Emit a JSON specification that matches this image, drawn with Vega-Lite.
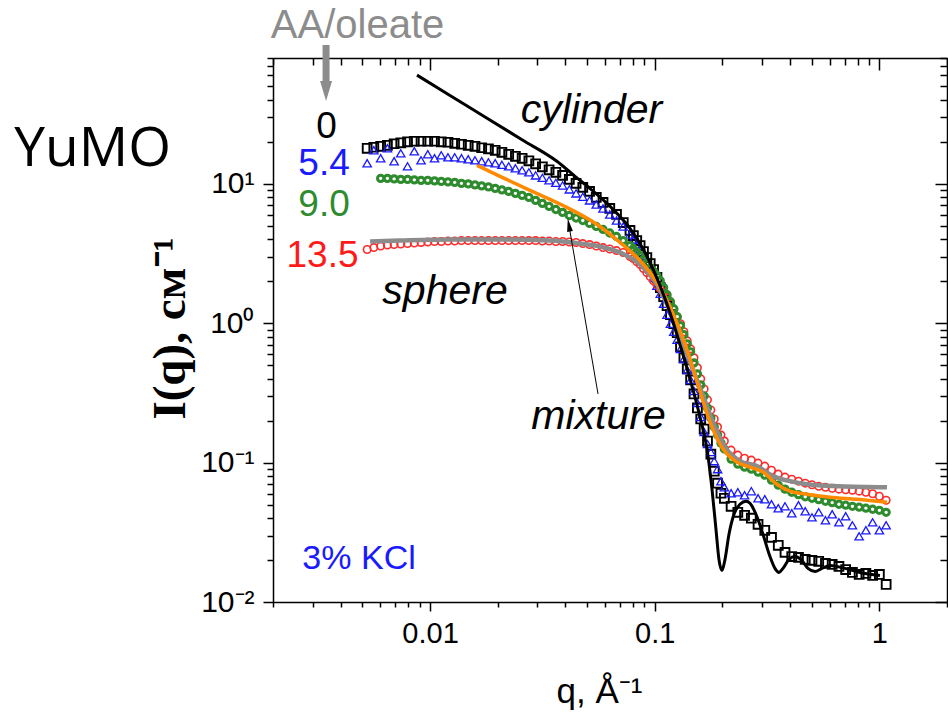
{
"$schema":"https://vega.github.io/schema/vega-lite/v6.json",
"width":674,"height":544,"autosize":{"type":"none"},
"padding":{"left":273,"top":58,"right":1,"bottom":111},
"background":"white",
"config":{"view":{"stroke":null},"axis":{"grid":false}},
"datasets":{
"d0":[{"q":0.00525,"I":18.0},{"q":0.00562,"I":18.31},{"q":0.00603,"I":18.61},{"q":0.00646,"I":18.92},{"q":0.00692,"I":19.4},{"q":0.00741,"I":19.72},{"q":0.00794,"I":20.05},{"q":0.00851,"I":20.22},{"q":0.00912,"I":20.22},{"q":0.00977,"I":20.22},{"q":0.01047,"I":20.22},{"q":0.01122,"I":20.05},{"q":0.01202,"I":19.89},{"q":0.01288,"I":19.56},{"q":0.0138,"I":19.24},{"q":0.01479,"I":18.92},{"q":0.01585,"I":18.61},{"q":0.01698,"I":18.16},{"q":0.0182,"I":17.86},{"q":0.0195,"I":17.42},{"q":0.02089,"I":16.85},{"q":0.02239,"I":16.3},{"q":0.02399,"I":15.77},{"q":0.0257,"I":15.26},{"q":0.02754,"I":14.64},{"q":0.02951,"I":13.93},{"q":0.03162,"I":13.26},{"q":0.03388,"I":12.61},{"q":0.03631,"I":12.1},{"q":0.0389,"I":11.51},{"q":0.04169,"I":10.77},{"q":0.04467,"I":10.08},{"q":0.04786,"I":9.44},{"q":0.05129,"I":8.83},{"q":0.05495,"I":8.0},{"q":0.05888,"I":7.36},{"q":0.0631,"I":6.66},{"q":0.06761,"I":6.03},{"q":0.07244,"I":5.28},{"q":0.07762,"I":4.63},{"q":0.08035,"I":4.26},{"q":0.08318,"I":3.92},{"q":0.0861,"I":3.61},{"q":0.08913,"I":3.27},{"q":0.09226,"I":2.96},{"q":0.0955,"I":2.68},{"q":0.09886,"I":2.43},{"q":0.1023,"I":2.13},{"q":0.1059,"I":1.8},{"q":0.1096,"I":1.551},{"q":0.1135,"I":1.336},{"q":0.1175,"I":1.151},{"q":0.1216,"I":0.992},{"q":0.1259,"I":0.855},{"q":0.1303,"I":0.678},{"q":0.1349,"I":0.565},{"q":0.1396,"I":0.471},{"q":0.1445,"I":0.392},{"q":0.1496,"I":0.311},{"q":0.1549,"I":0.2467},{"q":0.1603,"I":0.2056},{"q":0.166,"I":0.1742},{"q":0.1718,"I":0.1428},{"q":0.1778,"I":0.1151},{"q":0.1841,"I":0.0868},{"q":0.1905,"I":0.0712},{"q":0.1972,"I":0.0603},{"q":0.2042,"I":0.0555},{"q":0.2188,"I":0.0486},{"q":0.2344,"I":0.044},{"q":0.2512,"I":0.0419},{"q":0.2692,"I":0.0399},{"q":0.2884,"I":0.0361},{"q":0.309,"I":0.0327},{"q":0.3311,"I":0.0291},{"q":0.3548,"I":0.0255},{"q":0.3802,"I":0.0227},{"q":0.4074,"I":0.0212},{"q":0.4365,"I":0.0209},{"q":0.4677,"I":0.0202},{"q":0.5012,"I":0.0199},{"q":0.537,"I":0.0196},{"q":0.5754,"I":0.0189},{"q":0.6166,"I":0.0186},{"q":0.6607,"I":0.018},{"q":0.7079,"I":0.0171},{"q":0.7586,"I":0.0163},{"q":0.8128,"I":0.01577},{"q":0.871,"I":0.01603},{"q":0.9333,"I":0.0155},{"q":1.0,"I":0.01577},{"q":1.072,"I":0.01336}],
"d54":[{"q":0.00525,"I":14.05},{"q":0.00562,"I":17.42},{"q":0.00603,"I":15.26},{"q":0.00646,"I":18.0},{"q":0.00692,"I":14.52},{"q":0.00741,"I":16.57},{"q":0.00794,"I":13.36},{"q":0.00851,"I":17.13},{"q":0.00912,"I":14.76},{"q":0.00977,"I":16.3},{"q":0.01047,"I":15.26},{"q":0.01122,"I":16.03},{"q":0.01202,"I":15.51},{"q":0.01288,"I":15.51},{"q":0.0138,"I":15.26},{"q":0.01479,"I":15.01},{"q":0.01585,"I":14.76},{"q":0.01698,"I":14.52},{"q":0.0182,"I":14.28},{"q":0.0195,"I":14.05},{"q":0.02089,"I":13.7},{"q":0.02239,"I":13.36},{"q":0.02399,"I":12.93},{"q":0.0257,"I":12.51},{"q":0.02754,"I":12.1},{"q":0.02951,"I":11.51},{"q":0.03162,"I":11.05},{"q":0.03388,"I":10.6},{"q":0.03631,"I":10.17},{"q":0.0389,"I":9.75},{"q":0.04169,"I":9.13},{"q":0.04467,"I":8.55},{"q":0.04786,"I":8.07},{"q":0.05129,"I":7.61},{"q":0.05495,"I":7.12},{"q":0.05888,"I":6.66},{"q":0.0631,"I":6.03},{"q":0.06761,"I":5.46},{"q":0.07244,"I":4.95},{"q":0.07762,"I":4.33},{"q":0.08035,"I":3.99},{"q":0.08318,"I":3.67},{"q":0.0861,"I":3.38},{"q":0.08913,"I":3.06},{"q":0.09226,"I":2.72},{"q":0.0955,"I":2.43},{"q":0.09886,"I":2.13},{"q":0.1023,"I":1.861},{"q":0.1059,"I":1.63},{"q":0.1096,"I":1.381},{"q":0.1135,"I":1.151},{"q":0.1175,"I":0.992},{"q":0.1216,"I":0.869},{"q":0.1259,"I":0.761},{"q":0.1303,"I":0.655},{"q":0.1349,"I":0.555},{"q":0.1396,"I":0.463},{"q":0.1445,"I":0.392},{"q":0.1496,"I":0.327},{"q":0.1549,"I":0.268},{"q":0.1603,"I":0.2125},{"q":0.166,"I":0.1657},{"q":0.1718,"I":0.1359},{"q":0.1778,"I":0.119},{"q":0.1841,"I":0.1025},{"q":0.1905,"I":0.0898},{"q":0.1972,"I":0.0736},{"q":0.2042,"I":0.0666},{"q":0.2188,"I":0.0603},{"q":0.2344,"I":0.0613},{"q":0.2512,"I":0.0584},{"q":0.2692,"I":0.0624},{"q":0.2884,"I":0.0555},{"q":0.309,"I":0.0546},{"q":0.3311,"I":0.0503},{"q":0.3548,"I":0.0471},{"q":0.3802,"I":0.0486},{"q":0.4074,"I":0.0433},{"q":0.4365,"I":0.0495},{"q":0.4677,"I":0.0448},{"q":0.5012,"I":0.0405},{"q":0.537,"I":0.044},{"q":0.5754,"I":0.0386},{"q":0.6166,"I":0.0426},{"q":0.6607,"I":0.0373},{"q":0.7079,"I":0.0412},{"q":0.7586,"I":0.0355},{"q":0.8128,"I":0.0296},{"q":0.871,"I":0.0327},{"q":0.9333,"I":0.0373},{"q":1.0,"I":0.0327},{"q":1.072,"I":0.0355}],
"d90":[{"q":0.00603,"I":10.95},{"q":0.00646,"I":10.95},{"q":0.00692,"I":10.86},{"q":0.00741,"I":10.77},{"q":0.00794,"I":10.77},{"q":0.00851,"I":10.69},{"q":0.00912,"I":10.6},{"q":0.00977,"I":10.6},{"q":0.01047,"I":10.51},{"q":0.01122,"I":10.42},{"q":0.01202,"I":10.34},{"q":0.01288,"I":10.25},{"q":0.0138,"I":10.08},{"q":0.01479,"I":10.0},{"q":0.01585,"I":9.83},{"q":0.01698,"I":9.67},{"q":0.0182,"I":9.51},{"q":0.0195,"I":9.28},{"q":0.02089,"I":9.05},{"q":0.02239,"I":8.83},{"q":0.02399,"I":8.55},{"q":0.0257,"I":8.27},{"q":0.02754,"I":8.0},{"q":0.02951,"I":7.61},{"q":0.03162,"I":7.24},{"q":0.03388,"I":6.89},{"q":0.03631,"I":6.55},{"q":0.0389,"I":6.24},{"q":0.04169,"I":5.93},{"q":0.04467,"I":5.69},{"q":0.04786,"I":5.46},{"q":0.05129,"I":5.2},{"q":0.05495,"I":4.95},{"q":0.05888,"I":4.71},{"q":0.0631,"I":4.44},{"q":0.06761,"I":4.19},{"q":0.07244,"I":3.92},{"q":0.07762,"I":3.61},{"q":0.08035,"I":3.44},{"q":0.08318,"I":3.24},{"q":0.0861,"I":3.06},{"q":0.08913,"I":2.86},{"q":0.09226,"I":2.68},{"q":0.0955,"I":2.51},{"q":0.09886,"I":2.35},{"q":0.1023,"I":2.2},{"q":0.1059,"I":2.02},{"q":0.1096,"I":1.8},{"q":0.1135,"I":1.603},{"q":0.1175,"I":1.428},{"q":0.1216,"I":1.272},{"q":0.1259,"I":1.114},{"q":0.1303,"I":0.959},{"q":0.1349,"I":0.827},{"q":0.1396,"I":0.712},{"q":0.1445,"I":0.624},{"q":0.1496,"I":0.52},{"q":0.1549,"I":0.433},{"q":0.1603,"I":0.361},{"q":0.166,"I":0.301},{"q":0.1718,"I":0.2467},{"q":0.1778,"I":0.209},{"q":0.1841,"I":0.18},{"q":0.1905,"I":0.1577},{"q":0.1972,"I":0.1381},{"q":0.2042,"I":0.1251},{"q":0.2188,"I":0.106},{"q":0.2344,"I":0.0975},{"q":0.2512,"I":0.0928},{"q":0.2692,"I":0.0898},{"q":0.2884,"I":0.0855},{"q":0.309,"I":0.0813},{"q":0.3311,"I":0.0748},{"q":0.3548,"I":0.0689},{"q":0.3802,"I":0.0645},{"q":0.4074,"I":0.0613},{"q":0.4365,"I":0.0589},{"q":0.4677,"I":0.0569},{"q":0.5012,"I":0.0555},{"q":0.537,"I":0.0542},{"q":0.5754,"I":0.0528},{"q":0.6166,"I":0.0516},{"q":0.6607,"I":0.0503},{"q":0.7079,"I":0.0495},{"q":0.7586,"I":0.0486},{"q":0.8128,"I":0.0479},{"q":0.871,"I":0.0471},{"q":0.9333,"I":0.0463},{"q":1.0,"I":0.0455},{"q":1.072,"I":0.044}],
"d135":[{"q":0.00525,"I":3.38},{"q":0.00562,"I":3.49},{"q":0.00603,"I":3.58},{"q":0.00646,"I":3.64},{"q":0.00692,"I":3.67},{"q":0.00741,"I":3.7},{"q":0.00794,"I":3.73},{"q":0.00851,"I":3.76},{"q":0.00912,"I":3.8},{"q":0.00977,"I":3.83},{"q":0.01047,"I":3.86},{"q":0.01122,"I":3.86},{"q":0.01202,"I":3.89},{"q":0.01288,"I":3.89},{"q":0.0138,"I":3.92},{"q":0.01479,"I":3.92},{"q":0.01585,"I":3.92},{"q":0.01698,"I":3.92},{"q":0.0182,"I":3.92},{"q":0.0195,"I":3.92},{"q":0.02089,"I":3.92},{"q":0.02239,"I":3.92},{"q":0.02399,"I":3.92},{"q":0.0257,"I":3.92},{"q":0.02754,"I":3.92},{"q":0.02951,"I":3.92},{"q":0.03162,"I":3.89},{"q":0.03388,"I":3.89},{"q":0.03631,"I":3.86},{"q":0.0389,"I":3.86},{"q":0.04169,"I":3.83},{"q":0.04467,"I":3.8},{"q":0.04786,"I":3.73},{"q":0.05129,"I":3.67},{"q":0.05495,"I":3.58},{"q":0.05888,"I":3.49},{"q":0.0631,"I":3.41},{"q":0.06761,"I":3.32},{"q":0.07244,"I":3.22},{"q":0.07762,"I":3.01},{"q":0.08035,"I":2.91},{"q":0.08318,"I":2.77},{"q":0.0861,"I":2.64},{"q":0.08913,"I":2.47},{"q":0.09226,"I":2.31},{"q":0.0955,"I":2.16},{"q":0.09886,"I":2.02},{"q":0.1023,"I":1.892},{"q":0.1059,"I":1.771},{"q":0.1096,"I":1.657},{"q":0.1135,"I":1.526},{"q":0.1175,"I":1.381},{"q":0.1216,"I":1.251},{"q":0.1259,"I":1.114},{"q":0.1303,"I":0.992},{"q":0.1349,"I":0.869},{"q":0.1396,"I":0.748},{"q":0.1445,"I":0.655},{"q":0.1496,"I":0.565},{"q":0.1549,"I":0.479},{"q":0.1603,"I":0.399},{"q":0.166,"I":0.338},{"q":0.1718,"I":0.282},{"q":0.1778,"I":0.2386},{"q":0.1841,"I":0.2056},{"q":0.1905,"I":0.18},{"q":0.1972,"I":0.1577},{"q":0.2042,"I":0.1428},{"q":0.2188,"I":0.123},{"q":0.2344,"I":0.1132},{"q":0.2512,"I":0.1077},{"q":0.2692,"I":0.1042},{"q":0.2884,"I":0.0992},{"q":0.309,"I":0.0944},{"q":0.3311,"I":0.0883},{"q":0.3548,"I":0.0827},{"q":0.3802,"I":0.0787},{"q":0.4074,"I":0.0761},{"q":0.4365,"I":0.0736},{"q":0.4677,"I":0.0712},{"q":0.5012,"I":0.0694},{"q":0.537,"I":0.0677},{"q":0.5754,"I":0.0666},{"q":0.6166,"I":0.0655},{"q":0.6607,"I":0.0645},{"q":0.7079,"I":0.0639},{"q":0.7586,"I":0.0634},{"q":0.8128,"I":0.0624},{"q":0.871,"I":0.0613},{"q":0.9333,"I":0.0598},{"q":1.0,"I":0.0574},{"q":1.072,"I":0.0537}],
"cyl":[{"q":0.00875,"I":60.3},{"q":0.01227,"I":43.1},{"q":0.01794,"I":29.6},{"q":0.02567,"I":20.72},{"q":0.0367,"I":14.52},{"q":0.0442,"I":11.32},{"q":0.0515,"I":9.28},{"q":0.0633,"I":6.89},{"q":0.0776,"I":4.79},{"q":0.0905,"I":3.22},{"q":0.1056,"I":1.861},{"q":0.117,"I":1.19},{"q":0.1296,"I":0.7},{"q":0.1436,"I":0.399},{"q":0.1591,"I":0.2125},{"q":0.1709,"I":0.1251},{"q":0.1799,"I":0.0645},{"q":0.1874,"I":0.0332},{"q":0.1932,"I":0.0202},{"q":0.1993,"I":0.01685},{"q":0.2055,"I":0.0202},{"q":0.2141,"I":0.0306},{"q":0.2254,"I":0.0426},{"q":0.2397,"I":0.0503},{"q":0.2549,"I":0.0528},{"q":0.2656,"I":0.0511},{"q":0.2823,"I":0.0426},{"q":0.3034,"I":0.0306},{"q":0.3259,"I":0.0212},{"q":0.343,"I":0.01742},{"q":0.3574,"I":0.0163},{"q":0.3724,"I":0.01742},{"q":0.396,"I":0.0202},{"q":0.4211,"I":0.0212},{"q":0.4478,"I":0.0202},{"q":0.481,"I":0.01742},{"q":0.5169,"I":0.01657},{"q":0.5553,"I":0.01742},{"q":0.6028,"I":0.0183},{"q":0.7028,"I":0.01742},{"q":0.8199,"I":0.0163},{"q":1.006,"I":0.0155}],
"sph":[{"q":0.00541,"I":3.86},{"q":0.00735,"I":3.92},{"q":0.01227,"I":3.99},{"q":0.02049,"I":3.99},{"q":0.0342,"I":3.92},{"q":0.04652,"I":3.73},{"q":0.05709,"I":3.55},{"q":0.07007,"I":3.22},{"q":0.08602,"I":2.64},{"q":0.1003,"I":1.989},{"q":0.117,"I":1.23},{"q":0.1364,"I":0.655},{"q":0.1591,"I":0.3436},{"q":0.1855,"I":0.18},{"q":0.2055,"I":0.1293},{"q":0.2397,"I":0.1025},{"q":0.2852,"I":0.0944},{"q":0.3361,"I":0.08},{"q":0.4,"I":0.0736},{"q":0.4762,"I":0.07},{"q":0.668,"I":0.0677},{"q":1.081,"I":0.0666}],
"mix":[{"q":0.01619,"I":13.59},{"q":0.02049,"I":11.32},{"q":0.02786,"I":8.98},{"q":0.03907,"I":7.0},{"q":0.05536,"I":5.11},{"q":0.07007,"I":3.8},{"q":0.08602,"I":2.82},{"q":0.1003,"I":2.06},{"q":0.117,"I":1.314},{"q":0.1364,"I":0.712},{"q":0.1543,"I":0.3795},{"q":0.1762,"I":0.1956},{"q":0.2014,"I":0.1251},{"q":0.2324,"I":0.1008},{"q":0.2656,"I":0.0928},{"q":0.3034,"I":0.0855},{"q":0.3502,"I":0.07},{"q":0.4,"I":0.0624},{"q":0.4762,"I":0.0593},{"q":0.6028,"I":0.0565},{"q":0.7949,"I":0.0546},{"q":1.081,"I":0.052}],
"lab":[{"s":"0","q":0.003462,"I":21.5},{"s":"5.4","q":0.003375,"I":11.51},{"s":"9.0","q":0.003375,"I":5.84},{"s":"13.5","q":0.003323,"I":2.55}],
"ann":[{"t":"cylinder","q":0.05232,"I":27.25},{"t":"sphere","q":0.01166,"I":1.381},{"t":"mixture","q":0.05622,"I":0.1742}],
"aa":[{"t":"AA/oleate","q":0.004757,"I":111.4}],
"kcl":[{"t":"3% KCl","q":0.004831,"I":0.01713}],
"yumo":[{"t":"YuMO","q":0.0003148,"I":13.36}],
"arr":[{"q":0.05594,"I":0.311,"q2":0.0415,"I2":5.07}],
"arrh":[{"q":0.0415,"I":5.07}],
"garr":[{"q":0.003445,"I":99.2,"q2":0.003445,"I2":52.8}],
"garrh":[{"q":0.003445,"I":46.3}]
},
"layer":[
{
"encoding":{
"x":{"field":"q","type":"quantitative","scale":{"type":"log","domain":[0.002,2],"nice":false},
"axis":{"orient":"bottom","values":[0.002,0.003,0.004,0.005,0.006,0.007,0.008,0.009,0.01,0.02,0.03,0.04,0.05,0.06,0.07,0.08,0.09,0.1,0.2,0.3,0.4,0.5,0.6,0.7,0.8,0.9,1,2],
"labelExpr":"datum.value==0.01?'0.01':datum.value==0.1?'0.1':datum.value==1?'1':''",
"tickSize":{"condition":{"test":"datum.value==0.01||datum.value==0.1||datum.value==1","value":9},"value":5},
"tickWidth":1.5,"tickColor":"black","domainColor":"black","domainWidth":1.5,
"labelFont":"Liberation Sans","labelFontSize":29,"labelColor":"black","labelPadding":8,"labelOverlap":false,"labelFlush":false,"labelBound":false,
"title":"q, Å⁻¹","titleFont":"Liberation Sans","titleFontSize":35,"titleFontWeight":"normal","titleColor":"black","titleX":326,"titleY":100,"titleBaseline":"alphabetic","titleAlign":"center"}},
"y":{"field":"I","type":"quantitative","scale":{"type":"log","domain":[0.01,80],"nice":false},
"axis":{"orient":"left","values":[0.01,0.02,0.03,0.04,0.05,0.06,0.07,0.08,0.09,0.1,0.2,0.3,0.4,0.5,0.6,0.7,0.8,0.9,1,2,3,4,5,6,7,8,9,10,20,30,40,50,60,70,80],
"labelExpr":"datum.value==0.01?'10⁻²':datum.value==0.1?'10⁻¹':datum.value==1?'10⁰':datum.value==10?'10¹':''",
"tickSize":{"condition":{"test":"datum.value==0.01||datum.value==0.1||datum.value==1||datum.value==10","value":10},"value":6},
"tickWidth":1.5,"tickColor":"black","domainColor":"black","domainWidth":1.5,
"labelFont":"Liberation Sans","labelFontSize":30,"labelColor":"black","labelPadding":9,"labelOverlap":false,"labelFlush":false,"labelBound":false,
"title":"I(q), см⁻¹","titleFont":"Liberation Serif","titleFontSize":47,"titleFontWeight":"bold","titleColor":"black","titleX":-103,"titleY":270,"titleAngle":270,"titleAlign":"center","titleBaseline":"middle"}}
},
"layer":[
{"data":{"name":"d0"},"mark":{"type":"point","shape":"square","filled":false,"color":"#000000","strokeWidth":1.9,"size":78,"opacity":1}},
{"data":{"name":"d54"},"mark":{"type":"point","shape":"triangle-up","filled":false,"color":"#1a1aff","strokeWidth":1.3,"size":70,"opacity":1}},
{"data":{"name":"d135"},"mark":{"type":"point","shape":"circle","filled":false,"color":"#ff2a2a","strokeWidth":1.6,"size":55,"opacity":1}},
{"data":{"name":"d90"},"mark":{"type":"point","shape":"circle","filled":false,"color":"#2e8b2e","strokeWidth":3,"size":40,"opacity":1}},
{"data":{"name":"sph"},"mark":{"type":"line","color":"#8c8c8c","strokeWidth":4.5,"interpolate":"monotone"}},
{"data":{"name":"mix"},"mark":{"type":"line","color":"#ff8a00","strokeWidth":3.5,"interpolate":"monotone"}},
{"data":{"name":"cyl"},"mark":{"type":"line","color":"#000000","strokeWidth":3,"interpolate":"monotone"}},
{"data":{"name":"arr"},"mark":{"type":"rule","color":"#000000","strokeWidth":1},"encoding":{"x2":{"field":"q2"},"y2":{"field":"I2"}}},
{"data":{"name":"arrh"},"mark":{"type":"point","shape":"M0,-1L0.45,1L-0.45,1Z","filled":true,"color":"#000000","size":169,"angle":-10,"opacity":1}},
{"data":{"name":"garr"},"mark":{"type":"rule","color":"#8c8c8c","strokeWidth":7},"encoding":{"x2":{"field":"q2"},"y2":{"field":"I2"}}},
{"data":{"name":"garrh"},"mark":{"type":"point","shape":"M-0.6,-1L0.6,-1L0,1Z","filled":true,"color":"#8c8c8c","size":400,"opacity":1}},
{"data":{"name":"lab"},"mark":{"type":"text","font":"Liberation Sans","fontSize":37,"align":"center","baseline":"alphabetic"},
 "encoding":{"text":{"field":"s"},"color":{"field":"s","type":"nominal","scale":{"domain":["0","5.4","9.0","13.5"],"range":["#000000","#1a1aff","#2e8b2e","#ff1a1a"]},"legend":null}}},
{"data":{"name":"ann"},"mark":{"type":"text","font":"Liberation Sans","fontSize":41,"fontStyle":"italic","align":"center","baseline":"alphabetic","color":"#000000"},"encoding":{"text":{"field":"t"}}},
{"data":{"name":"aa"},"mark":{"type":"text","font":"Liberation Sans","fontSize":40,"align":"center","baseline":"alphabetic","color":"#8c8c8c"},"encoding":{"text":{"field":"t"}}},
{"data":{"name":"kcl"},"mark":{"type":"text","font":"Liberation Sans","fontSize":34,"align":"center","baseline":"alphabetic","color":"#1a1aff"},"encoding":{"text":{"field":"t"}}},
{"data":{"name":"yumo"},"mark":{"type":"text","font":"Open Sans","fontSize":55,"align":"center","baseline":"alphabetic","color":"#000000"},"encoding":{"text":{"field":"t"}}}
]
},
{
"data":{"name":"sph"},
"mark":{"type":"point","opacity":0},
"encoding":{
"x":{"field":"q","type":"quantitative","scale":{"type":"log","domain":[0.002,2],"nice":false},
"axis":{"orient":"top","values":[0.002,0.003,0.004,0.005,0.006,0.007,0.008,0.009,0.01,0.02,0.03,0.04,0.05,0.06,0.07,0.08,0.09,0.1,0.2,0.3,0.4,0.5,0.6,0.7,0.8,0.9,1,2],"labels":false,"title":null,
"tickSize":{"condition":{"test":"datum.value==0.01||datum.value==0.1||datum.value==1","value":-12},"value":-7},
"tickWidth":1.5,"tickColor":"black","domainColor":"black","domainWidth":1.5}},
"y":{"field":"I","type":"quantitative","scale":{"type":"log","domain":[0.01,80],"nice":false},
"axis":{"orient":"right","values":[0.01,0.02,0.03,0.04,0.05,0.06,0.07,0.08,0.09,0.1,0.2,0.3,0.4,0.5,0.6,0.7,0.8,0.9,1,2,3,4,5,6,7,8,9,10,20,30,40,50,60,70,80],"labels":false,"title":null,
"tickSize":{"condition":{"test":"datum.value==0.01||datum.value==0.1||datum.value==1||datum.value==10","value":-12},"value":-7},
"tickWidth":1.5,"tickColor":"black","domainColor":"black","domainWidth":1.5}}
}
}
],
"resolve":{"axis":{"x":"independent","y":"independent"}}
}
